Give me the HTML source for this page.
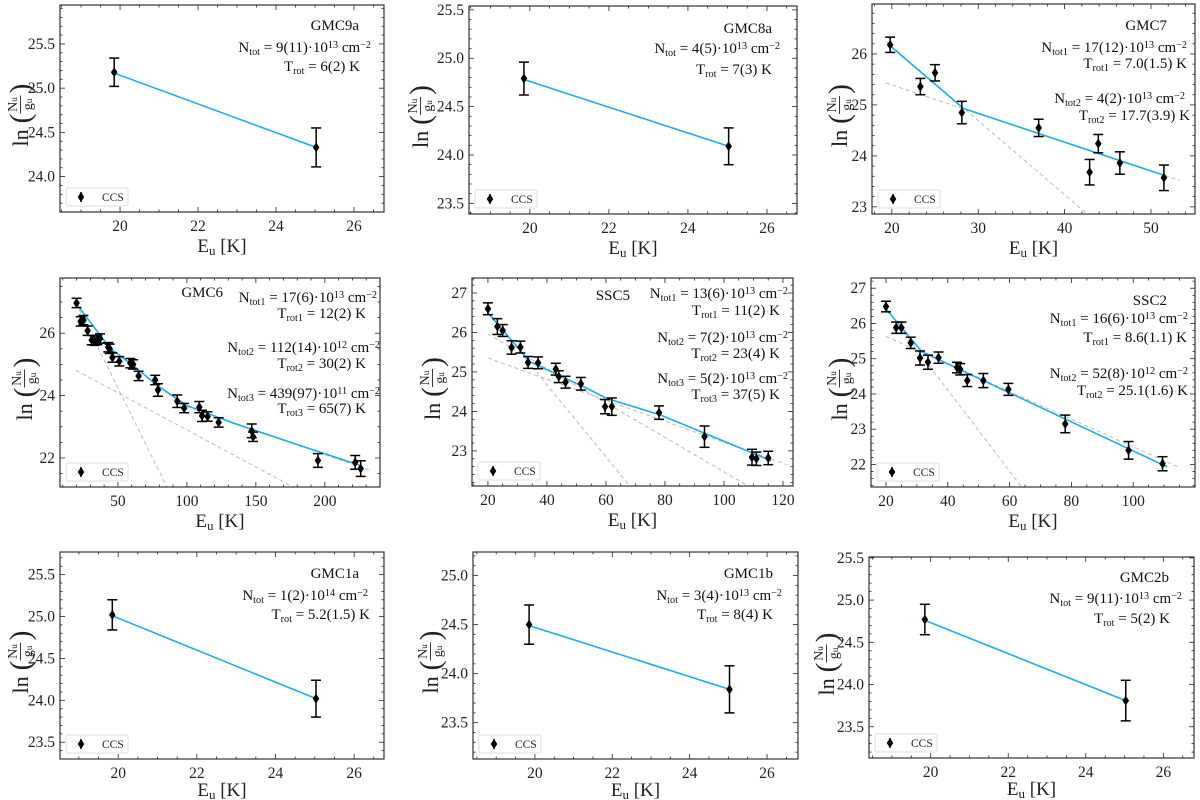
<!DOCTYPE html>
<html><head><meta charset="utf-8"><style>
html,body{margin:0;padding:0;background:#fff;}
svg{display:block;font-family:"Liberation Serif",serif;}
</style></head><body>
<svg id="fig" width="1200" height="800" viewBox="0 0 1200 800"></svg>
<script>
// ---------- data ----------
const gmc9aE=[19.85,25.03]; const gmc9aY=[25.18,24.33]; const gmc9aErr=[0.16,0.22];
const gmc9aFitE=[19.85,25.03]; const gmc9aFitY=[25.17,24.33];
const gmc8aE=[19.85,25.03]; const gmc8aY=[24.79,24.09]; const gmc8aErr=[0.17,0.19];
const gmc8aFitE=[19.85,25.03]; const gmc8aFitY=[24.78,24.09];
const gmc7E=[19.8,23.3,25.0,28.1,37.0,42.9,43.9,46.4,51.5];
const gmc7Y=[26.18,25.36,25.63,24.85,24.55,23.68,24.24,23.86,23.57];
const gmc7Err=[0.15,0.16,0.16,0.22,0.17,0.25,0.18,0.22,0.25];
const gmc7FitE=[20.0,28.3,51.5]; const gmc7FitY=[26.13,24.93,23.62];
const gmc7Comps=[[19.3,26.25,42.6,22.86],[19.3,25.43,53.3,23.52]];
const gmc6E=[20,23,25,28,31,33,35,37,43,44,46,51,59,61,65,77,79,93,98,109,111,115,123,147,148,195,222,226];
const gmc6Y=[26.97,26.38,26.42,26.08,25.78,25.76,25.78,25.83,25.55,25.5,25.22,25.1,25.04,25.0,24.63,24.5,24.18,23.82,23.6,23.63,23.35,23.33,23.14,22.87,22.68,21.92,21.86,21.66];
const gmc6Err=[0.15,0.15,0.15,0.15,0.15,0.15,0.15,0.15,0.15,0.15,0.15,0.15,0.15,0.15,0.15,0.15,0.2,0.2,0.15,0.18,0.18,0.15,0.15,0.22,0.15,0.22,0.22,0.25];
const gmc6FitE=[19.6,44.2,60,78.3,100,133,182,225.7]; const gmc6FitY=[26.96,25.52,25.0,24.33,23.68,23.13,22.4,21.76];
const gmc6Comps=[[19.6,26.96,85.5,21.07],[19.6,24.81,177,21.07],[95,23.73,233,21.6]];
const ssc5E=[20,23.2,25,28,31,33.6,37,43,44,46.3,51.5,59.7,62,78,93.4,109.5,111,115];
const ssc5Y=[26.6,26.15,26.05,25.62,25.63,25.24,25.23,25.07,24.88,24.74,24.7,24.12,24.12,23.97,23.36,22.84,22.8,22.82];
const ssc5Err=[0.15,0.2,0.15,0.17,0.15,0.15,0.15,0.15,0.15,0.15,0.16,0.18,0.22,0.17,0.27,0.2,0.17,0.17];
const ssc5FitE=[20,34.2,53.4,60.2,78.5,116]; const ssc5FitY=[26.5,25.26,24.59,24.33,23.91,22.75];
const ssc5Comps=[[20,26.5,68.1,22.11],[20,25.96,108.2,22.11],[20,25.35,121.3,22.65]];
const ssc2E=[20,23.3,25,28,31,33.6,37,43,44,46.3,51.5,59.6,78,98.5,109.5];
const ssc2Y=[26.48,25.88,25.88,25.45,25.02,24.9,25.03,24.75,24.7,24.38,24.38,24.13,23.15,22.4,22.02];
const ssc2Err=[0.15,0.16,0.16,0.16,0.2,0.2,0.16,0.15,0.16,0.17,0.2,0.17,0.25,0.25,0.2];
const ssc2FitE=[20.3,31.6,111]; const ssc2FitY=[26.38,25.2,21.93];
const ssc2Comps=[[20.3,26.38,63.9,21.36],[20,25.63,114.6,21.93]];
const gmc1aE=[19.85,25.03]; const gmc1aY=[25.02,24.02]; const gmc1aErr=[0.18,0.22];
const gmc1aFitE=[19.85,25.03]; const gmc1aFitY=[25.01,24.02];
const gmc1bE=[19.85,25.03]; const gmc1bY=[24.5,23.84]; const gmc1bErr=[0.2,0.24];
const gmc1bFitE=[19.85,25.03]; const gmc1bFitY=[24.49,23.84];
const gmc2bE=[19.85,25.03]; const gmc2bY=[24.77,23.81]; const gmc2bErr=[0.18,0.24];
const gmc2bFitE=[19.85,25.03]; const gmc2bFitY=[24.76,23.81];
const tickA=[20,22,24,26]; const tickYa=[24.0,24.5,25.0,25.5];
const tickYb=[23.5,24.0,24.5,25.0,25.5];
const tickYc=[23.5,24.0,24.5,25.0];
const tickX7=[20,30,40,50]; const tickY7=[23,24,25,26];
const tickX6=[50,100,150,200]; const tickY6=[22,24,26];
const tickX5=[20,40,60,80,100,120]; const tickY5=[23,24,25,26,27];
const tickX2=[20,40,60,80,100]; const tickY2=[22,23,24,25,26,27];

// ---------- panels (layout) ----------
const panels=[
 {id:'gmc9a',L:60,R:384,T:5,B:212,x0:18.46,x1:26.77,y0:23.6,y1:25.94,xt:tickA,yt:tickYa,xm:0.5,ym:0.1,yd:1,xd:0,yl:20,xlo:40,E:gmc9aE,Y:gmc9aY,Er:gmc9aErr,fE:gmc9aFitE,fY:gmc9aFitY,comps:[],
  texts:[['GMC9a',359,30],['N_{tot} = 9(11)·10^{13} cm^{−2}',371,52],['T_{rot} = 6(2) K',360,71]]},
 {id:'gmc8a',L:469,R:797,T:6,B:214,x0:18.46,x1:26.76,y0:23.39,y1:25.54,xt:tickA,yt:tickYb,xm:0.5,ym:0.1,yd:1,xd:0,yl:420,xlo:40,E:gmc8aE,Y:gmc8aY,Er:gmc8aErr,fE:gmc8aFitE,fY:gmc8aFitY,comps:[],
  texts:[['GMC8a',772,33],['N_{tot} = 4(5)·10^{13} cm^{−2}',780,53],['T_{rot} = 7(3) K',772,74]]},
 {id:'gmc7',L:872,R:1195,T:4,B:214,x0:17.7,x1:55.1,y0:22.86,y1:26.98,xt:tickX7,yt:tickY7,xm:2,ym:0.2,yd:0,xd:0,yl:839,xlo:40,E:gmc7E,Y:gmc7Y,Er:gmc7Err,fE:gmc7FitE,fY:gmc7FitY,comps:gmc7Comps,
  texts:[['GMC7',1167,30],['N_{tot1} = 17(12)·10^{13} cm^{−2}',1187,52],['T_{rot1} = 7.0(1.5) K',1187,68],['N_{tot2} = 4(2)·10^{13} cm^{−2}',1185,103],['T_{rot2} = 17.7(3.9) K',1190,120]]},
 {id:'gmc6',L:60,R:380,T:278,B:487,x0:8,x1:240,y0:21.07,y1:27.77,xt:tickX6,yt:tickY6,xm:10,ym:0.5,yd:0,xd:0,yl:24,xlo:40,E:gmc6E,Y:gmc6Y,Er:gmc6Err,fE:gmc6FitE,fY:gmc6FitY,comps:gmc6Comps,
  texts:[['GMC6',223,297],['N_{tot1} = 17(6)·10^{13} cm^{−2}',377,302],['T_{rot1} = 12(2) K',366,318],['N_{tot2} = 112(14)·10^{12} cm^{−2}',380,352],['T_{rot2} = 30(2) K',366,368],['N_{tot3} = 439(97)·10^{11} cm^{−2}',380,398],['T_{rot3} = 65(7) K',366,413]]},
 {id:'ssc5',L:472,R:793,T:278,B:486,x0:14.6,x1:123.4,y0:22.11,y1:27.38,xt:tickX5,yt:tickY5,xm:5,ym:0.2,yd:0,xd:0,yl:432,xlo:40,E:ssc5E,Y:ssc5Y,Er:ssc5Err,fE:ssc5FitE,fY:ssc5FitY,comps:ssc5Comps,
  texts:[['SSC5',630,300],['N_{tot1} = 13(6)·10^{13} cm^{−2}',788,298],['T_{rot1} = 11(2) K',780,315],['N_{tot2} = 7(2)·10^{13} cm^{−2}',788,342],['T_{rot2} = 23(4) K',780,358],['N_{tot3} = 5(2)·10^{13} cm^{−2}',788,383],['T_{rot3} = 37(5) K',780,399]]},
 {id:'ssc2',L:871,R:1195,T:278,B:487,x0:15.15,x1:120,y0:21.36,y1:27.29,xt:tickX2,yt:tickY2,xm:5,ym:0.2,yd:0,xd:0,yl:839,xlo:40,E:ssc2E,Y:ssc2Y,Er:ssc2Err,fE:ssc2FitE,fY:ssc2FitY,comps:ssc2Comps,
  texts:[['SSC2',1167,305],['N_{tot1} = 16(6)·10^{13} cm^{−2}',1188,323],['T_{rot1} = 8.6(1.1) K',1187,342],['N_{tot2} = 52(8)·10^{12} cm^{−2}',1188,378],['T_{rot2} = 25.1(1.6) K',1188,395]]},
 {id:'gmc1a',L:60,R:384,T:552,B:759,x0:18.52,x1:26.76,y0:23.3,y1:25.77,xt:tickA,yt:tickYb,xm:0.5,ym:0.1,yd:1,xd:0,yl:20,xlo:37,E:gmc1aE,Y:gmc1aY,Er:gmc1aErr,fE:gmc1aFitE,fY:gmc1aFitY,comps:[],
  texts:[['GMC1a',359,578],['N_{tot} = 1(2)·10^{14} cm^{−2}',368,600],['T_{rot} = 5.2(1.5) K',370,619]]},
 {id:'gmc1b',L:473,R:798,T:552,B:759,x0:18.4,x1:26.8,y0:23.13,y1:25.24,xt:tickA,yt:tickYc,xm:0.5,ym:0.1,yd:1,xd:0,yl:430,xlo:37,E:gmc1bE,Y:gmc1bY,Er:gmc1bErr,fE:gmc1bFitE,fY:gmc1bFitY,comps:[],
  texts:[['GMC1b',773,578],['N_{tot} = 3(4)·10^{13} cm^{−2}',782,600],['T_{rot} = 8(4) K',773,619]]},
 {id:'gmc2b',L:869,R:1194,T:557,B:758,x0:18.41,x1:26.79,y0:23.13,y1:25.51,xt:tickA,yt:tickYb,xm:0.5,ym:0.1,yd:1,xd:0,yl:826,xlo:37,E:gmc2bE,Y:gmc2bY,Er:gmc2bErr,fE:gmc2bFitE,fY:gmc2bFitY,comps:[],
  texts:[['GMC2b',1169,582],['N_{tot} = 9(11)·10^{13} cm^{−2}',1182,603],['T_{rot} = 5(2) K',1170,623]]}
];

const NS='http://www.w3.org/2000/svg';
const fig=document.getElementById('fig');
function mk(tag,attrs,parent){const e=document.createElementNS(NS,tag);for(const k in attrs)e.setAttribute(k,attrs[k]);(parent||fig).appendChild(e);return e;}

function richText(g,str,x,y,size,anchor){
  const t=mk('text',{x:x,y:y,'font-size':size,'text-anchor':anchor,fill:'#111'},g);
  const re=/([_^])\{([^}]*)\}|([^_^]+)/g;let m;
  while((m=re.exec(str))){
    if(m[3]){const s=mk('tspan',{},t);s.textContent=m[3];}
    else{const s=mk('tspan',{'font-size':size*0.68,'baseline-shift':m[1]==='_'?'-25%':'45%'},t);s.textContent=m[2];}
  }
  return t;
}

panels.forEach(p=>{
  const g=mk('g',{});
  
  
  const X=v=>p.L+(v-p.x0)/(p.x1-p.x0)*(p.R-p.L);
  const Yf=v=>p.B-(v-p.y0)/(p.y1-p.y0)*(p.B-p.T);
  const clipId='clip-'+p.id;
  const cp=mk('clipPath',{id:clipId},g);mk('rect',{x:p.L,y:p.T,width:p.R-p.L,height:p.B-p.T},cp);
  const tg=mk('g',{stroke:'#222','stroke-width':0.8},g);
  
  
  const xs=Math.ceil(p.x0/p.xm)*p.xm;
  for(let v=xs;v<=p.x1+1e-9;v+=p.xm){const px=X(v);const maj=p.xt.some(t=>Math.abs(t-v)<1e-6);const l=maj?5:2.5;
    mk('line',{x1:px,x2:px,y1:p.B,y2:p.B-l},tg);mk('line',{x1:px,x2:px,y1:p.T,y2:p.T+l},tg);}
  const ys=Math.ceil(p.y0/p.ym)*p.ym;
  for(let v=ys;v<=p.y1+1e-9;v+=p.ym){const py=Yf(v);const maj=p.yt.some(t=>Math.abs(t-v)<1e-6);const l=maj?5:2.5;
    mk('line',{y1:py,y2:py,x1:p.L,x2:p.L+l},tg);mk('line',{y1:py,y2:py,x1:p.R,x2:p.R-l},tg);}
  p.xt.forEach(v=>{const t=mk('text',{x:X(v),y:p.B+19,'font-size':15.5,'text-anchor':'middle',fill:'#222'},g);t.textContent=v.toFixed(p.xd);
    });
  p.yt.forEach(v=>{const t=mk('text',{x:p.L-5,y:Yf(v)+5,'font-size':15.5,'text-anchor':'end',fill:'#222'},g);t.textContent=v.toFixed(p.yd);
    });
  const xl=mk('text',{x:(p.L+p.R)/2,y:p.B+p.xlo,'font-size':19,'text-anchor':'middle',fill:'#222'},g);
  
  const a=mk('tspan',{},xl);a.textContent='E';const b=mk('tspan',{'font-size':13,'baseline-shift':'-25%'},xl);b.textContent='u';const c=mk('tspan',{},xl);c.textContent=' [K]';
  const yg=mk('g',{transform:`translate(${p.yl},${(p.T+p.B)/2}) rotate(-90)`,fill:'#222'},g);
  
  let t1=mk('text',{x:-38,y:8,'font-size':22},yg);t1.textContent='ln';
  t1=mk('text',{x:-15,y:10,'font-size':30},yg);t1.textContent='(';
  t1=mk('text',{x:4,y:-3,'font-size':14,'text-anchor':'middle'},yg);t1.textContent='N';
  mk('tspan',{'font-size':9},t1).textContent='u';
  mk('line',{x1:-5,x2:13,y1:0.5,y2:0.5,stroke:'#222','stroke-width':0.9},yg);
  t1=mk('text',{x:4,y:12,'font-size':14,'text-anchor':'middle'},yg);t1.textContent='g';
  mk('tspan',{'font-size':9},t1).textContent='u';
  t1=mk('text',{x:15,y:10,'font-size':30},yg);t1.textContent=')';
  const cg=mk('g',{'clip-path':`url(#${clipId})`},g);
  p.comps.forEach(cm=>{const l=mk('line',{x1:X(cm[0]),y1:Yf(cm[1]),x2:X(cm[2]),y2:Yf(cm[3]),stroke:'#bbb','stroke-width':1,'stroke-dasharray':'4,3'},cg);
    });
  const fit=mk('polyline',{points:p.fE.map((e,i)=>X(e)+','+Yf(p.fY[i])).join(' '),fill:'none',stroke:'#18aef0','stroke-width':1.6},cg);
  
  p.E.forEach((e,i)=>{const px=X(e),py=Yf(p.Y[i]),pt=Yf(p.Y[i]+p.Er[i]),pb=Yf(p.Y[i]-p.Er[i]);
    const pg=mk('g',{stroke:'#000','stroke-width':1.5},cg);
    
    mk('line',{x1:px,x2:px,y1:pt,y2:pb},pg);mk('line',{x1:px-5,x2:px+5,y1:pt,y2:pt},pg);mk('line',{x1:px-5,x2:px+5,y1:pb,y2:pb},pg);
    mk('polygon',{points:`${px},${py-5} ${px+3.3},${py} ${px},${py+5} ${px-3.3},${py}`,fill:'#000',stroke:'none'},pg);});
  const fr=mk('rect',{x:p.L,y:p.T,width:p.R-p.L,height:p.B-p.T,fill:'none',stroke:'#333','stroke-width':1.2},g);
  
  const lg=mk('g',{},g);
  mk('rect',{x:p.L+6,y:p.B-24,width:62,height:18,rx:2,fill:'#fff',stroke:'#ddd','stroke-width':1},lg);
  const lx=p.L+21,ly=p.B-15;
  mk('line',{x1:lx,x2:lx,y1:ly-5,y2:ly+5,stroke:'#000','stroke-width':1.5},lg);
  mk('polygon',{points:`${lx},${ly-5} ${lx+3.3},${ly} ${lx},${ly+5} ${lx-3.3},${ly}`,fill:'#000'},lg);
  const lt=mk('text',{x:p.L+42,y:ly+4,'font-size':11.5,fill:'#222'},lg);lt.textContent='CCS';
  p.texts.forEach((tx,i)=>{const t=richText(g,tx[0],tx[1],tx[2],15,'end');
    });
});
</script>
</body></html>
